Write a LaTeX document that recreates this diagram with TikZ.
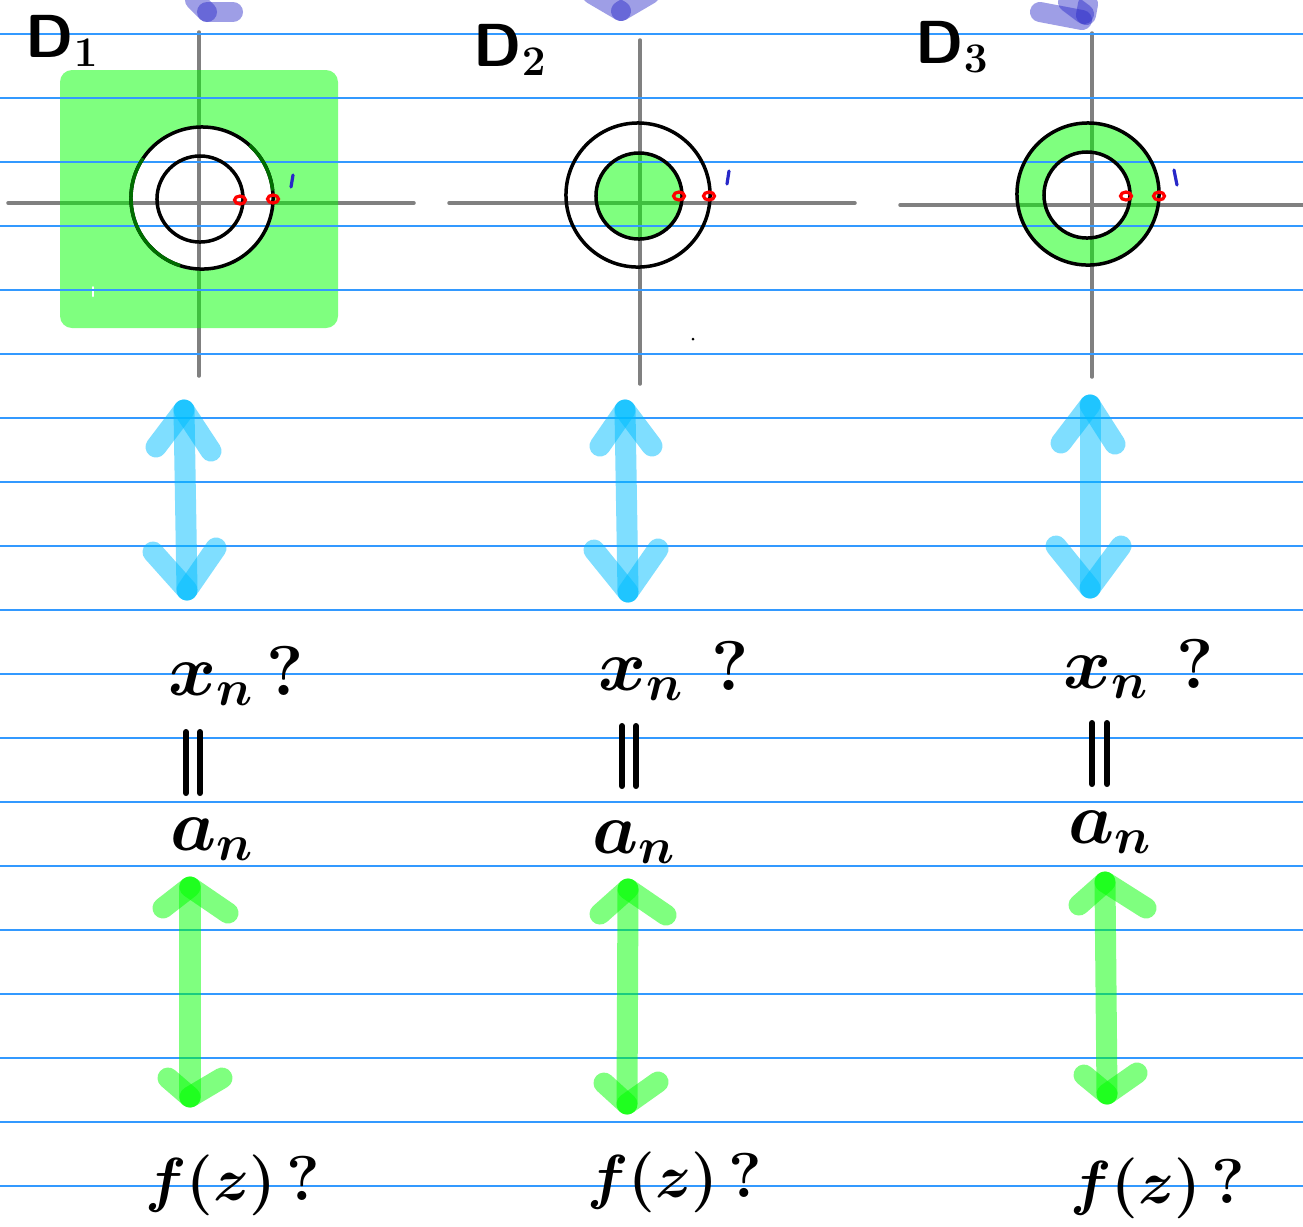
\documentclass[tikz,border=0pt]{standalone}
\usepackage{amsmath}
\definecolor{paper}{RGB}{51,153,255}
\definecolor{axisgray}{RGB}{128,128,128}
\definecolor{hlgreen}{RGB}{0,255,0}
\definecolor{skyarrow}{RGB}{0,190,255}
\definecolor{inkblue}{RGB}{40,40,200}
\definecolor{arcgreen}{RGB}{0,110,0}
\tikzset{
  paperline/.style={paper, line width=0.015cm},
  axisline/.style={axisgray, line width=0.035cm, line cap=round},
  ring/.style={black, line width=0.035cm},
  hl/.style={fill=hlgreen, fill opacity=0.5},
  bluestroke/.style={skyarrow, draw opacity=0.5, line width=0.21cm, line cap=round},
  greenstroke/.style={hlgreen, draw opacity=0.5, line width=0.21cm, line cap=round},
  redmark/.style={red, line width=0.032cm},
  onemark/.style={inkblue, line width=0.032cm, line cap=round},
  eqbar/.style={black, line width=0.06cm, line cap=round},
  topblob/.style={inkblue, draw opacity=0.45, line width=0.2cm, line cap=round},
  hand/.style={inner sep=0pt, anchor=base west, font=\fontsize{20}{24}\selectfont\boldmath\bfseries},
  handf/.style={inner sep=0pt, anchor=base west, font=\fontsize{18}{22}\selectfont\boldmath\bfseries},
  dlabel/.style={inner sep=0pt, anchor=base west, font=\fontsize{17}{20}\selectfont\boldmath},
}
\begin{document}
\begin{tikzpicture}[x=0.01cm, y=-0.01cm]
\useasboundingbox (0,0) rectangle (1303,1226);
\clip (0,0) rectangle (1303,1226);
\fill[white] (0,0) rectangle (1303,1226);

% ---------- axes ----------
\draw[axisline] (199,32) -- (199,376);
\draw[axisline] (8,203) -- (414,203);
\draw[axisline] (640,40) -- (640,384);
\draw[axisline] (449,203) -- (855,203);
\draw[axisline] (1092,33) -- (1092,377);
\draw[axisline] (900,205) -- (1303,205);

% ---------- green regions ----------
\fill[hl, even odd rule, rounded corners=0.12cm] (60,70) rectangle (338,328)
  (202,198) circle[radius=0.71cm];
\fill[hl] (639,196) circle[radius=0.42cm];
\fill[hl, even odd rule] (1088,194) circle[radius=0.71cm] (1087,195) circle[radius=0.43cm];
\draw[white, line width=0.02cm, line cap=round] (93,287) -- (93,296);

% ---------- notebook lines ----------
\foreach \k in {0,...,18}
  \draw[paperline] (0,{34+64*\k}) -- (1303,{34+64*\k});

% ---------- circles ----------
\draw[ring] (202,198) circle[radius=0.71cm];
\draw[arcgreen, line width=0.035cm] (202,198) ++(146:0.71cm) arc[start angle=146, end angle=252, radius=0.71cm];
\draw[arcgreen, line width=0.035cm] (202,198) ++(6:0.71cm) arc[start angle=6, end angle=48, radius=0.71cm];
\draw[ring] (200,199) circle[radius=0.43cm];
\draw[ring] (638,195) circle[radius=0.72cm];
\draw[ring] (639,196) circle[radius=0.43cm];
\draw[ring] (1088,194) circle[radius=0.71cm];
\draw[ring] (1087,195) circle[radius=0.43cm];

% ---------- red marks and blue "1" ----------
\foreach \px/\py in {240/200, 273/199, 679/196, 709/196, 1126/196, 1159/196}
  \draw[redmark] (\px,\py) ellipse[x radius=0.055cm, y radius=0.04cm];
\draw[onemark] (293,175) -- (291,187);
\draw[onemark] (729,171) -- (727,184);
\draw[onemark] (1174,170) -- (1177,185);
\fill[black] (693,339) circle[radius=0.015cm];

% ---------- blue blobs at top ----------
\draw[topblob] (195,0) -- (207,12);
\draw[topblob] (207,12) -- (233,12);
\draw[topblob] (592,-6) -- (621,11);
\draw[topblob] (650,-6) -- (621,11);
\draw[topblob] (1040,12) -- (1082,20);
\draw[topblob] (1068,2) -- (1084,14);
\draw[topblob] (1088,4) -- (1086,15);

% ---------- labels D ----------
\node[dlabel] (d1) at (25,57) {$\mathsf{D}_1$};
\node[dlabel] (d2) at (473,66) {$\mathsf{D}_2$};
\node[dlabel] (d3) at (915,63) {$\mathsf{D}_3$};

% ---------- text ----------
\node[hand] (x1) at (168,695) {$x_n$\,?};
\node[hand] (x2) at (598,690) {$x_n$ ?};
\node[hand] (x3) at (1063,688) {$x_n$ ?};
\node[hand] (a1) at (170,850) {$a_n$};
\node[hand] (a2) at (592,853) {$a_n$};
\node[hand] (a3) at (1068,843) {$a_n$};
\node[handf] (f1) at (145,1200) {$f(z)$\,?};
\node[handf] (f2) at (587,1197) {$f(z)$\,?};
\node[handf] (f3) at (1070,1203) {$f(z)$\,?};

% ---------- equality bars ----------
\draw[eqbar] (186,732) -- (186,793);
\draw[eqbar] (200,732) -- (200,793);
\draw[eqbar] (622,726) -- (622,786);
\draw[eqbar] (636,726) -- (636,786);
\draw[eqbar] (1092,723) -- (1092,784);
\draw[eqbar] (1107,723) -- (1107,784);

% ---------- double arrows ----------
% blue
\coordinate (bt1) at (184,410); \coordinate (bt1l) at (156,447); \coordinate (bt1r) at (211,451);
\coordinate (bb1) at (187,590); \coordinate (bb1l) at (153,552); \coordinate (bb1r) at (216,548);
\coordinate (bt2) at (625,410); \coordinate (bt2l) at (600,446); \coordinate (bt2r) at (652,446);
\coordinate (bb2) at (628,592); \coordinate (bb2l) at (594,550); \coordinate (bb2r) at (658,549);
\coordinate (bt3) at (1090,405); \coordinate (bt3l) at (1061,443); \coordinate (bt3r) at (1115,444);
\coordinate (bb3) at (1090,588); \coordinate (bb3l) at (1056,546); \coordinate (bb3r) at (1121,546);
\foreach \i in {1,2,3} {
  \draw[bluestroke] (bt\i) -- (bb\i);
  \draw[bluestroke] (bt\i l) -- (bt\i);
  \draw[bluestroke] (bt\i r) -- (bt\i);
  \draw[bluestroke] (bb\i l) -- (bb\i);
  \draw[bluestroke] (bb\i r) -- (bb\i);
}
% green
\coordinate (gt1) at (190,887); \coordinate (gt1l) at (163,908); \coordinate (gt1r) at (228,913);
\coordinate (gb1) at (190,1097); \coordinate (gb1l) at (168,1078); \coordinate (gb1r) at (222,1078);
\coordinate (gt2) at (628,889); \coordinate (gt2l) at (600,914); \coordinate (gt2r) at (666,915);
\coordinate (gb2) at (627,1104); \coordinate (gb2l) at (604,1083); \coordinate (gb2r) at (658,1082);
\coordinate (gt3) at (1105,882); \coordinate (gt3l) at (1079,905); \coordinate (gt3r) at (1146,908);
\coordinate (gb3) at (1107,1094); \coordinate (gb3l) at (1084,1075); \coordinate (gb3r) at (1137,1073);
\foreach \i in {1,2,3} {
  \draw[greenstroke] (gt\i) -- (gb\i);
  \draw[greenstroke] (gt\i l) -- (gt\i);
  \draw[greenstroke] (gt\i r) -- (gt\i);
  \draw[greenstroke] (gb\i l) -- (gb\i);
  \draw[greenstroke] (gb\i r) -- (gb\i);
}
\end{tikzpicture}
\end{document}
